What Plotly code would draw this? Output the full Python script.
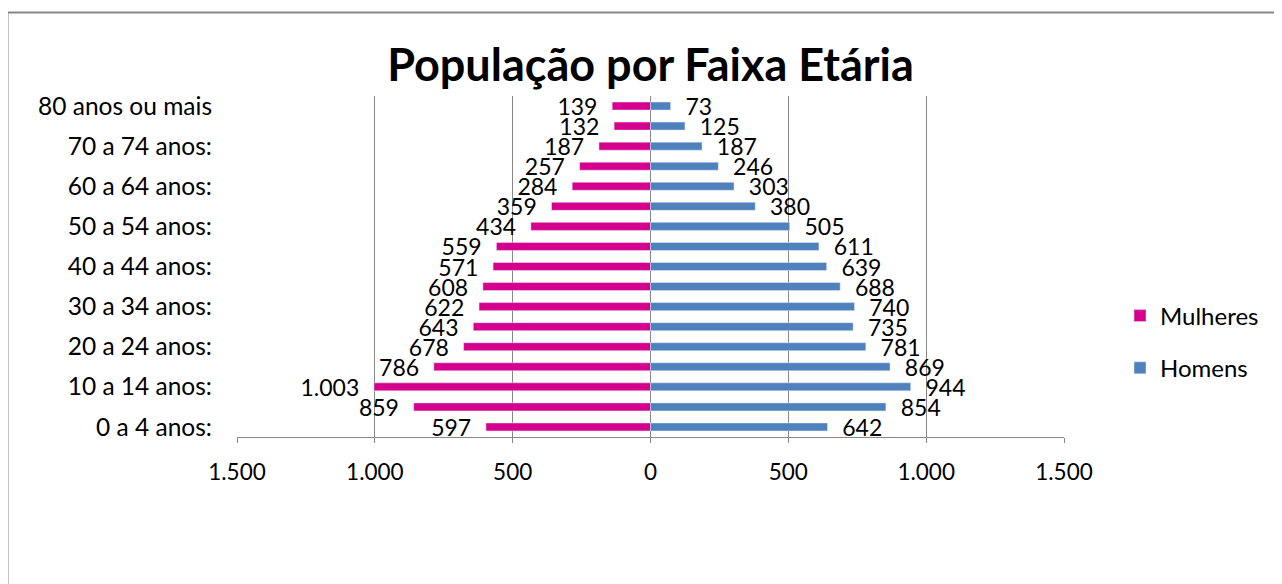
import plotly.graph_objects as go

# ── DATA ──────────────────────────────────────────────────────────────────────

FAIXAS = [
    "0 a 4 anos:", "5 a 9 anos:", "10 a 14 anos:", "15 a 19 anos:",
    "20 a 24 anos:", "25 a 29 anos:", "30 a 34 anos:", "35 a 39 anos:",
    "40 a 44 anos:", "45 a 49 anos:", "50 a 54 anos:", "55 a 59 anos:",
    "60 a 64 anos:", "65 a 69 anos:", "70 a 74 anos:", "75 a 79 anos:",
    "80 anos ou mais",
]
MULHERES = [597, 859, 1003, 786, 678, 643, 622, 608, 571, 559, 434, 359, 284, 257, 187, 132, 139]
HOMENS = [642, 854, 944, 869, 781, 735, 740, 688, 639, 611, 505, 380, 303, 246, 187, 125, 73]

X_TICKS = [-1500, -1000, -500, 0, 500, 1000, 1500]
X_TICKTEXT = ["1.500", "1.000", "500", "0", "500", "1.000", "1.500"]

# ── STYLE ─────────────────────────────────────────────────────────────────────

FONT = "Lato, Calibri, sans-serif"
PINK = "#D6008F"
BLUE = "#4F81BD"
GREY = "#878787"
NB = "\u00a0"

# page body has an 8px margin, so layout numbers are in page pixels minus OFF
OFF = 8
W, H = 1282 - OFF, 584 - OFF
L, T = 237 - OFF, 96 - OFF
R, B = 1282 - 1064, 584 - 437
pw, ph = W - L - R, H - T - B


def fmt(v):
    return f"{v:,}".replace(",", ".")


fig = go.Figure()

fig.add_trace(go.Bar(
    y=FAIXAS,
    x=[-v for v in MULHERES],
    orientation="h",
    name="Mulheres",
    legendgroup="m",
    marker=dict(color=PINK),
    text=[fmt(v) + NB * 2 for v in MULHERES],
    textposition="outside",
    constraintext="none",
    cliponaxis=False,
    textfont=dict(family=FONT, size=23, color="black"),
))
fig.add_trace(go.Bar(
    y=FAIXAS,
    x=HOMENS,
    orientation="h",
    name="Homens",
    legendgroup="h",
    marker=dict(color=BLUE),
    text=[NB * 2 + fmt(v) for v in HOMENS],
    textposition="outside",
    constraintext="none",
    cliponaxis=False,
    textfont=dict(family=FONT, size=23, color="black"),
))

# category boundary ticks on the vertical axis at zero
bounds = [i - 0.5 for i in range(len(FAIXAS) + 1)]
axis_common = dict(
    overlaying="y", anchor="free", position=0.5,
    range=[-0.5, len(FAIXAS) - 0.5], tickvals=bounds, showticklabels=False,
    showgrid=False, zeroline=False, showline=True, linecolor=GREY, linewidth=1,
    tickcolor=GREY, ticklen=5, tickwidth=1,
)

# chart frame
fig.add_shape(
    type="rect", xref="paper", yref="paper",
    x0=(7.5 - OFF - L) / pw, x1=(1281 - OFF - L) / pw,
    y0=(H - B - 620) / ph, y1=(H - B - (12.5 - OFF)) / ph,
    line=dict(color=GREY, width=2), layer="below",
)

fig.update_layout(
    width=W, height=H,
    margin=dict(l=L, r=R, t=T, b=B),
    paper_bgcolor="white", plot_bgcolor="white",
    font=dict(family=FONT, size=22, color="black"),
    title=dict(
        text="<b>População por Faixa Etária</b>",
        x=0.5, xref="paper", xanchor="center",
        y=1 - (65 - OFF) / H, yanchor="middle",
        font=dict(family=FONT, size=45, color="black"),
    ),
    barmode="relative",
    bargap=0.6,
    xaxis=dict(
        range=[-1500, 1500], tickvals=X_TICKS, ticktext=X_TICKTEXT,
        showgrid=True, gridcolor=GREY, gridwidth=1,
        zeroline=False, showline=True, linecolor=GREY, linewidth=1,
        ticks="outside", ticklen=5, tickcolor=GREY, ticklabelstandoff=10,
        tickfont=dict(size=22.5),
    ),
    yaxis=dict(
        type="category", tickvals=FAIXAS[::2], showgrid=False,
        zeroline=False, showline=False, ticks="", ticklabelstandoff=24,
        tickfont=dict(size=24.5),
    ),
    yaxis2=dict(ticks="outside", **axis_common),
    yaxis3=dict(ticks="inside", **axis_common),
    legend=dict(
        x=(1120 - OFF - L) / pw, xanchor="left",
        y=(H - B - (342 - OFF)) / ph, yanchor="middle",
        traceorder="grouped", tracegroupgap=18,
        font=dict(family=FONT, size=24),
    ),
)

fig.write_html("out.html")
